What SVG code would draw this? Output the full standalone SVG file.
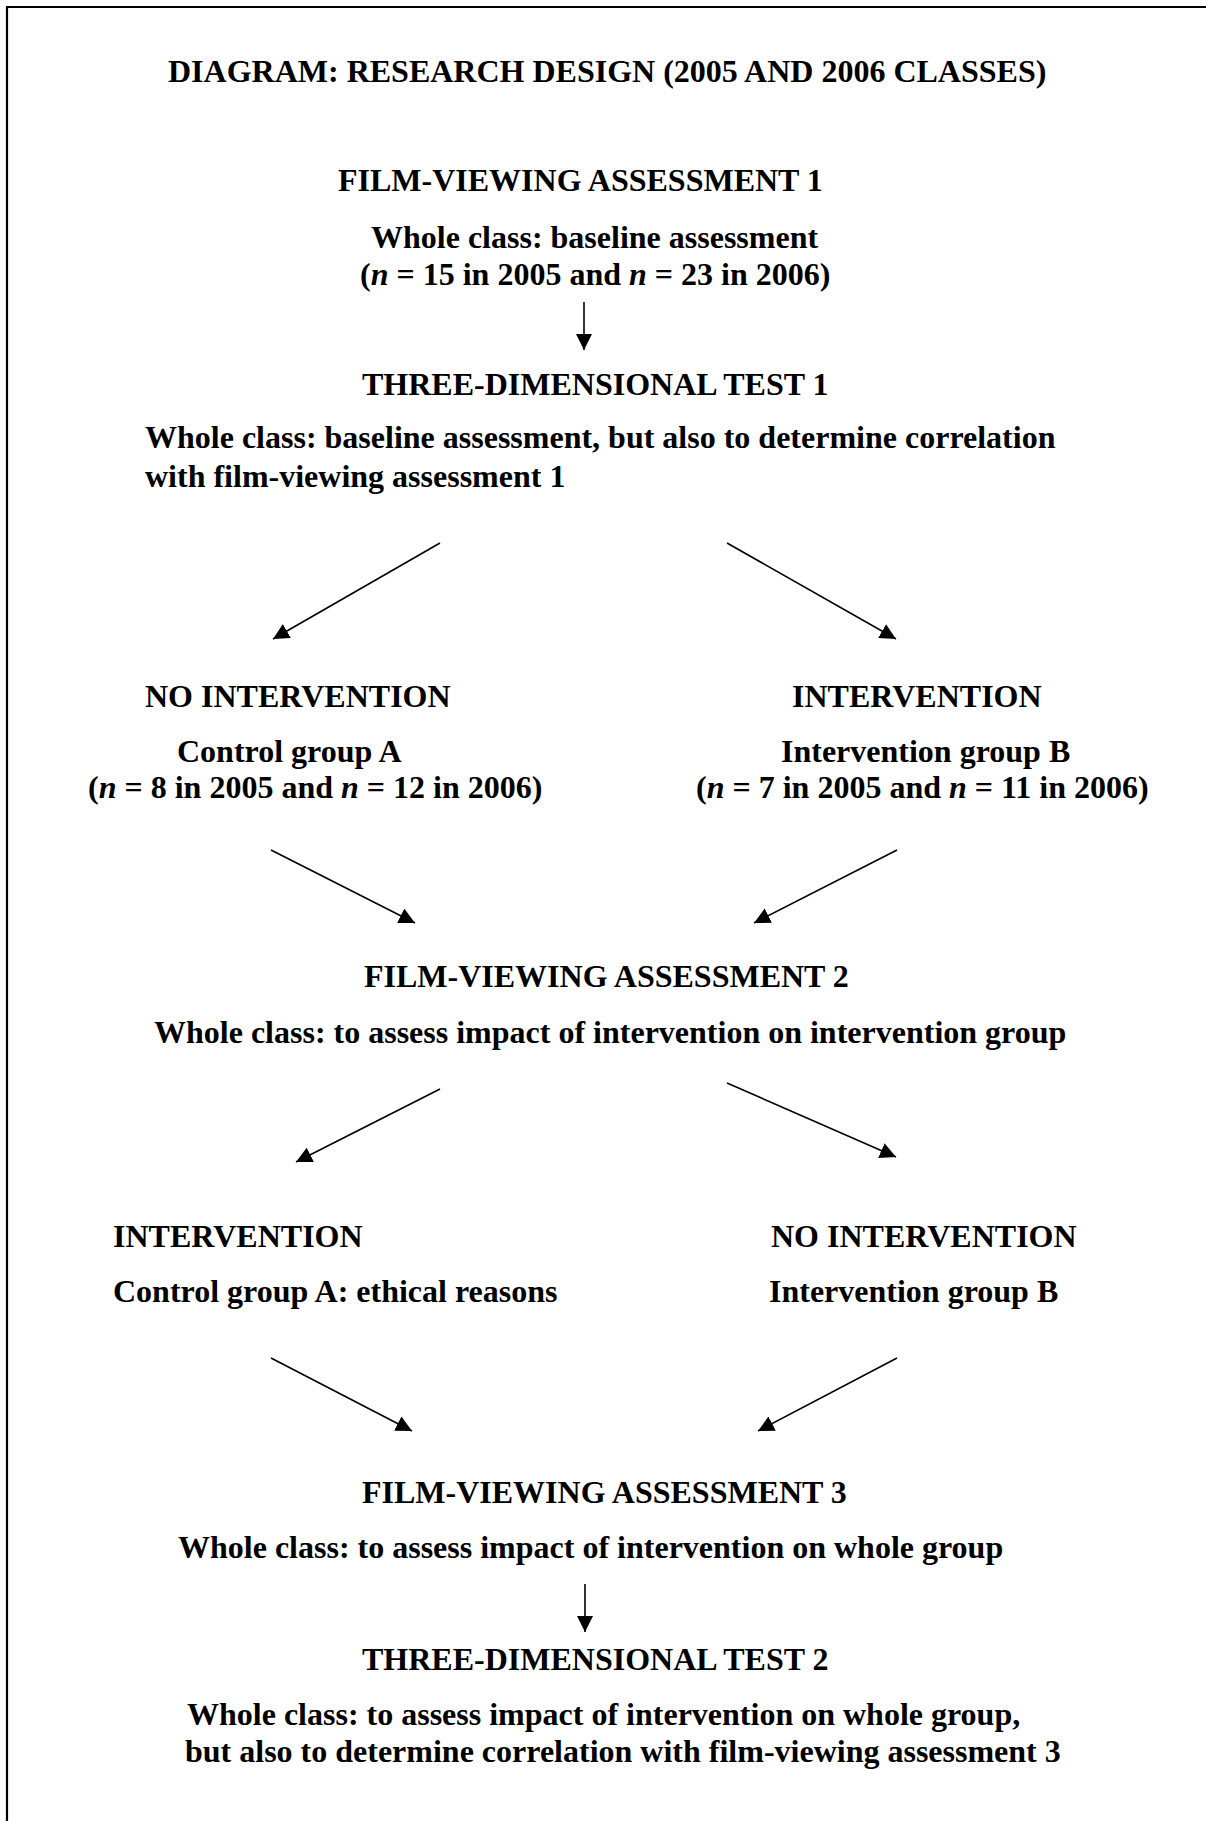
<svg xmlns="http://www.w3.org/2000/svg" width="1206" height="1821" viewBox="0 0 1206 1821">
<style>
text{font-family:"Liberation Serif","Times New Roman",serif;font-weight:bold;font-size:32px;fill:#000}
.i{font-style:italic}
.c{stroke:#000;stroke-width:1.6;fill:none;marker-end:url(#ah)}
</style>
<defs>
<marker id="ah" markerUnits="userSpaceOnUse" markerWidth="17" markerHeight="17" refX="16" refY="8" orient="auto">
<path d="M0,0 L16,8 L0,16 z" fill="#000"/>
</marker>
</defs>
<rect width="1206" height="1821" fill="#fff"/>
<path d="M7,1821 V7 H1206" stroke="#000" stroke-width="2.2" fill="none"/>
<g id="title"><text x="168" y="82">DIAGRAM: RESEARCH DESIGN (2005 AND 2006 CLASSES)</text></g>
<g id="fva1">
<text x="338" y="191">FILM-VIEWING ASSESSMENT 1</text>
<text x="371" y="248">Whole class: baseline assessment</text>
<text x="360" y="285">(<tspan class="i">n</tspan> = 15 in 2005 and <tspan class="i">n</tspan> = 23 in 2006)</text>
</g>
<g id="tdt1">
<text x="362" y="395">THREE-DIMENSIONAL TEST 1</text>
<text x="145" y="448">Whole class: baseline assessment, but also to determine correlation</text>
<text x="145" y="487">with film-viewing assessment 1</text>
</g>
<g id="groupA1">
<text x="145" y="707">NO INTERVENTION</text>
<text x="177" y="762">Control group A</text>
<text x="88" y="798">(<tspan class="i">n</tspan> = 8 in 2005 and <tspan class="i">n</tspan> = 12 in 2006)</text>
</g>
<g id="groupB1">
<text x="792" y="707">INTERVENTION</text>
<text x="781" y="762">Intervention group B</text>
<text x="696" y="798">(<tspan class="i">n</tspan> = 7 in 2005 and <tspan class="i">n</tspan> = 11 in 2006)</text>
</g>
<g id="fva2">
<text x="364" y="987">FILM-VIEWING ASSESSMENT 2</text>
<text x="154" y="1043">Whole class: to assess impact of intervention on intervention group</text>
</g>
<g id="groupA2">
<text x="113" y="1247">INTERVENTION</text>
<text x="113" y="1302">Control group A: ethical reasons</text>
</g>
<g id="groupB2">
<text x="771" y="1247">NO INTERVENTION</text>
<text x="769" y="1302">Intervention group B</text>
</g>
<g id="fva3">
<text x="362" y="1503">FILM-VIEWING ASSESSMENT 3</text>
<text x="178" y="1558">Whole class: to assess impact of intervention on whole group</text>
</g>
<g id="tdt2">
<text x="362" y="1670">THREE-DIMENSIONAL TEST 2</text>
<text x="187" y="1725">Whole class: to assess impact of intervention on whole group,</text>
<text x="185" y="1762">but also to determine correlation with film-viewing assessment 3</text>
</g>
<g id="connectors">
<line class="c" x1="584" y1="302" x2="584" y2="350"/>
<line class="c" x1="440" y1="543" x2="273" y2="639"/>
<line class="c" x1="727" y1="543" x2="896" y2="639"/>
<line class="c" x1="271" y1="850" x2="415" y2="923"/>
<line class="c" x1="897" y1="850" x2="754" y2="923"/>
<line class="c" x1="440" y1="1089" x2="296" y2="1162"/>
<line class="c" x1="727" y1="1083" x2="896" y2="1157"/>
<line class="c" x1="271" y1="1358" x2="412" y2="1431"/>
<line class="c" x1="897" y1="1358" x2="758" y2="1431"/>
<line class="c" x1="585" y1="1584" x2="585" y2="1632"/>
</g>
</svg>
